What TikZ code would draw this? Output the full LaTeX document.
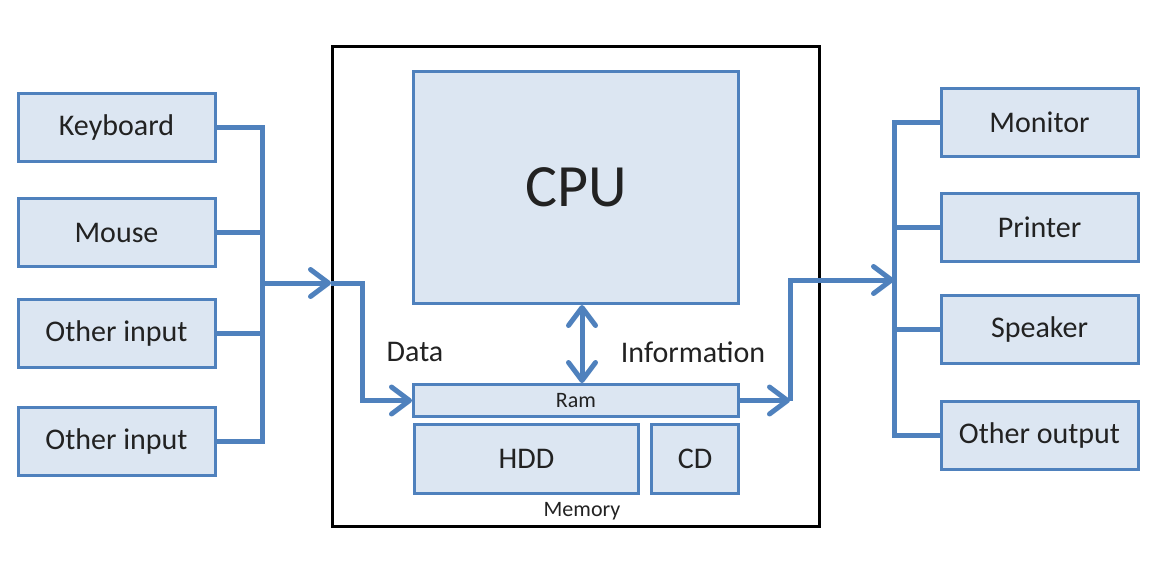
\documentclass[tikz,border=0pt]{standalone}
\usepackage{fontspec}
\setmainfont{Carlito}
\usetikzlibrary{arrows.meta}
\usetikzlibrary{positioning}

\definecolor{boxfill}{HTML}{DCE6F2}
\definecolor{boxline}{HTML}{4F81BD}
\definecolor{txt}{HTML}{222222}

\tikzset{
  unit/.style={draw=boxline, fill=boxfill, line width=3pt, inner sep=0pt, text=txt, font=\fontsize{30}{32}\selectfont},
  io/.style={unit, minimum width=197pt, minimum height=68pt},
  wire/.style={draw=boxline, line width=5pt},
  tip/.tip={Straight Barb[length=18pt,width=27pt,round]},
  flow/.style={wire, -tip},
  lbl/.style={text=txt, inner sep=0pt, font=\fontsize{30}{32}\selectfont},
}

\begin{document}
\begin{tikzpicture}[x=1pt, y=-1pt]

  \useasboundingbox (0,0) rectangle (1152,576);

  % System box
  \node[draw, line width=3pt, minimum width=487pt, minimum height=480pt] (sys) at (576,286.5) {};

  % Inputs and outputs
  \foreach \n/\t/\y in {in1/Keyboard/127.5, in2/Mouse/232.5, in3/Other input/333.5, in4/Other input/441}
      {\node[io] (\n) at (116.5,\y) {\t};}
  \foreach \n/\t/\y in {out1/Monitor/122.5, out2/Printer/227.5, out3/Speaker/329.5, out4/Other output/435}
      {\node[io] (\n) at (1039.5,\y) {\t};}

  % Inside the computer
  \node[unit, minimum width=325pt, minimum height=232pt, font=\fontsize{60}{64}\selectfont] (cpu) at (576,187.5) {CPU};
  \node[unit, minimum width=325pt, minimum height=32pt, font=\fontsize{22}{24}\selectfont] (ram) at (576,400.5) {Ram};
  \node[unit, minimum width=224pt, minimum height=69pt] (hdd) at (526.5,459) {HDD};
  \node[unit, minimum width=87pt, minimum height=69pt] (cd) at (695,459) {CD};

  \node[lbl] (data) at (415,352) {Data};
  \node[lbl] (info) at (693,352) {Information};
  \node[lbl, font=\fontsize{22}{24}\selectfont] (mem) at (582,511) {Memory};

  % Bends of the flows
  \coordinate (lbus) at (262,283);
  \coordinate (dbend) at (362,283);
  \coordinate (ibend) at (790,280);
  \coordinate (rbus) at (894,280);

  % Input side
  \draw[wire] (in1.east) -| (lbus |- in4.east) -- (in4.east);
  \foreach \n in {in2,in3}
      {\draw[wire] (\n.east) -- (\n.east -| lbus);}
  \draw[flow] (lbus) -- (lbus -| sys.west);
  \draw[flow] (lbus -| sys.west) -| (dbend |- ram.west) -- (ram.west);

  % CPU and Ram
  \draw[wire, tip-tip] ([xshift=6pt]cpu.south) -- ([xshift=6pt]ram.north);

  % Output side
  \draw[flow] (ram.east) -- (ram.east -| ibend);
  \draw[flow] (ram.east -| ibend) |- (rbus);
  \draw[wire] (out1.west) -| (rbus |- out4.west) -- (out4.west);
  \foreach \n in {out2,out3}
      {\draw[wire] (\n.west) -- (\n.west -| rbus);}
\end{tikzpicture}
\end{document}
